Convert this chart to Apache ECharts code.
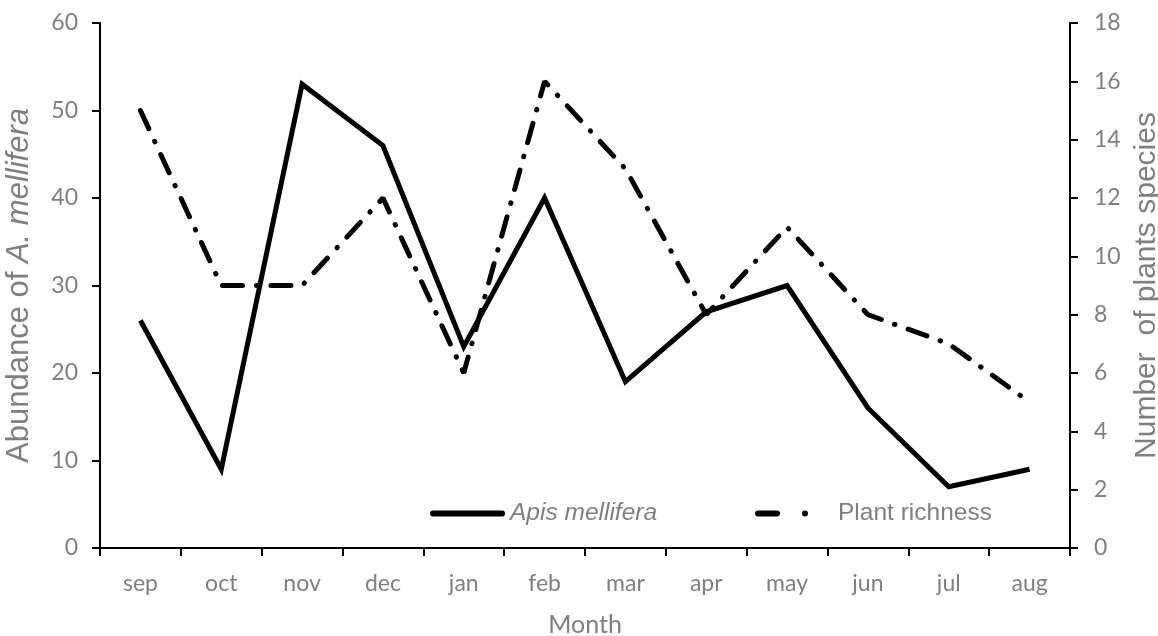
<!DOCTYPE html>
<html><head><meta charset="utf-8">
<script src="https://cdn.jsdelivr.net/npm/echarts@6/dist/echarts.min.js"></script>
<style>html,body{margin:0;padding:0;background:#fff}#c{width:1158px;height:636px}</style>
</head><body><div id="c"></div>
<script>
const months = ['sep','oct','nov','dec','jan','feb','mar','apr','may','jun','jul','aug'];
const apis = [26, 9, 53, 46, 23, 40, 19, 27, 30, 16, 7, 9];
const plants = [15, 9, 9, 12, 6, 16, 13, 8, 11, 8, 7, 5];
const leftTicks = [0, 60, 10];
const rightTicks = [0, 18, 2];

const gray = '#7f7f7f';
const font = 'Lato, "Open Sans", sans-serif';
const arial = '"Liberation Sans", Arial, sans-serif';
const chart = echarts.init(document.getElementById('c'));
const axLine = {show: true, lineStyle: {color: '#000', width: 2}};
const tick = () => ({show: true, length: 8, lineStyle: {color: '#000', width: 2}});

chart.setOption({
  animation: false,
  grid: {left: 100, right: 88, top: 23, bottom: 88, containLabel: false, outerBoundsMode: 'none'},
  legend: [
    {left: 425, top: 496, itemWidth: 75, itemHeight: 6,
     icon: 'path://M3,0H72A3,3 0 0 1 72,6H3A3,3 0 0 1 3,0Z',
     textStyle: {fontFamily: arial, fontSize: 24.5, color: gray, fontStyle: 'italic'},
     data: ['Apis mellifera']},
    {left: 750, top: 496, itemWidth: 78, itemHeight: 6,
     icon: 'path://M3,0H22A3,3 0 0 1 22,6H3A3,3 0 0 1 3,0Z M50,0A3,3 0 0 1 50,6A3,3 0 0 1 50,0Z M78,3L78,3.01',
     textStyle: {fontFamily: arial, fontSize: 24.5, color: gray},
     data: ['Plant richness']}
  ],
  xAxis: {type: 'category', data: months, boundaryGap: true, position: 'bottom',
     axisLine: axLine, axisTick: tick(),
     axisLabel: {color: gray, fontSize: 23, fontFamily: font, margin: 24},
     name: 'Month', nameLocation: 'middle', nameGap: 64,
     nameTextStyle: {color: gray, fontSize: 25, fontFamily: font},
     splitLine: {show: false}},
  yAxis: [
    {type: 'value', min: leftTicks[0], max: leftTicks[1], interval: leftTicks[2], position: 'left',
     axisLine: axLine, axisTick: tick(), splitLine: {show: false},
     axisLabel: {color: gray, fontSize: 23, fontFamily: font, margin: 22},
     name: '{n|Abundance of }{i|A. mellifera}', nameLocation: 'middle', nameGap: 65, nameRotate: 90,
     nameTextStyle: {rich: {
       n: {color: gray, fontSize: 31, fontFamily: arial},
       i: {color: gray, fontSize: 31, fontFamily: arial, fontStyle: 'italic'}
     }}},
    {type: 'value', min: rightTicks[0], max: rightTicks[1], interval: rightTicks[2], position: 'right',
     axisLine: axLine, axisTick: tick(), splitLine: {show: false},
     axisLabel: {color: gray, fontSize: 23, fontFamily: font, margin: 24},
     name: 'Number  of plants species', nameLocation: 'middle', nameGap: 56, nameRotate: 90,
     nameTextStyle: {color: gray, fontSize: 30, fontFamily: arial}}
  ],
  series: [
    {name: 'Apis mellifera', type: 'line', data: apis, yAxisIndex: 0, symbol: 'none',
     lineStyle: {color: '#000', width: 5, join: 'miter'}, itemStyle: {color: '#000'}},
    {name: 'Plant richness', type: 'line', data: plants, yAxisIndex: 1, symbol: 'none',
     lineStyle: {color: '#000', width: 5, type: [20, 14, 0.5, 14], cap: 'round'}, itemStyle: {color: '#000'}}
  ]
});
</script></body></html>
